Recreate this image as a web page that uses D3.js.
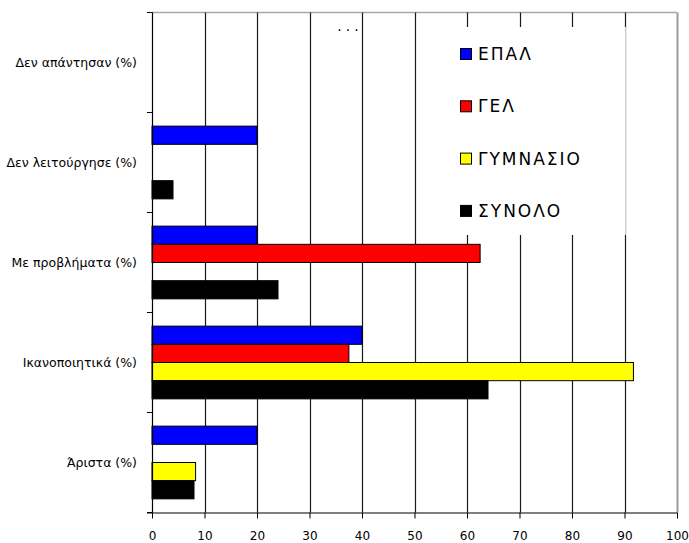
<!DOCTYPE html>
<html>
<head>
<meta charset="utf-8">
<script src="https://cdn.jsdelivr.net/npm/d3@7"></script>
<style>
  html, body { margin: 0; padding: 0; background: #fff; }
  svg { display: block; font-family: "Comic Sans MS", "DejaVu Sans", sans-serif; }
</style>
</head>
<body>
<svg id="chart" width="689" height="543"></svg>
<script>
// Answer categories, listed top to bottom
const categories = ["Δεν απάντησαν (%)", "Δεν λειτούργησε (%)", "Με προβλήματα (%)", "Ικανοποιητικά (%)", "Άριστα (%)"];

// Series names and colours
const seriesNames = ["ΕΠΑΛ", "ΓΕΛ", "ΓΥΜΝΑΣΙΟ", "ΣΥΝΟΛΟ"];
const seriesColors = ["#0000ff", "#ff0000", "#ffff00", "#000000"];

// Percentages per category (same order as categories)
const epal     = [0, 20, 20, 40, 20];
const gel      = [0, 0, 62.5, 37.5, 0];
const gymnasio = [0, 0, 0, 91.7, 8.3];
const synolo   = [0, 4, 24, 64, 8];

const xTicks = [0, 10, 20, 30, 40, 50, 60, 70, 80, 90, 100];

const seriesValues = [epal, gel, gymnasio, synolo];

const svg = d3.select("#chart");
const plotLeft = 152, plotRight = 677, plotTop = 12.5, plotBottom = 512.5;

const x = d3.scaleLinear().domain([0, 100]).range([plotLeft, plotRight]);
const y = d3.scaleBand().domain(categories).range([plotTop, plotBottom]).padding(0);
const ySub = d3.scaleBand().domain(seriesNames).range([0, y.bandwidth()])
  .paddingInner(0).paddingOuter(0.75);

// Plot frame (top and right edges)
svg.append("line").attr("x1", plotLeft).attr("x2", plotRight).attr("y1", plotTop).attr("y2", plotTop)
  .attr("stroke", "#a8a8a8").attr("stroke-width", 1.5);

// Vertical gridlines
svg.append("g").selectAll("line").data(xTicks.filter(d => d > 0 && d < 100)).join("line")
  .attr("x1", d => Math.round(x(d)) + 0.5).attr("x2", d => Math.round(x(d)) + 0.5)
  .attr("y1", plotTop).attr("y2", plotBottom)
  .attr("stroke", "#1a1a1a").attr("stroke-width", 1.2);

svg.append("line").attr("x1", plotRight + 0.5).attr("x2", plotRight + 0.5).attr("y1", plotTop).attr("y2", plotBottom)
  .attr("stroke", "#9a9a9a").attr("stroke-width", 2);

// Bars
const rows = categories.map((c, i) => seriesNames.map((s, j) => ({ cat: c, series: s, value: seriesValues[j][i], color: seriesColors[j] })));
svg.append("g").selectAll("g").data(rows).join("g")
  .attr("transform", d => `translate(0,${y(d[0].cat)})`)
  .selectAll("rect").data(d => d.filter(e => e.value > 0)).join("rect")
  .attr("x", x(0))
  .attr("y", d => ySub(d.series))
  .attr("width", d => x(d.value) - x(0))
  .attr("height", ySub.bandwidth())
  .attr("fill", d => d.color)
  .attr("stroke", "#000").attr("stroke-width", 1);

// Legend panel
const lg = svg.append("g");
lg.append("rect").attr("x", 440).attr("y", 27).attr("width", 185).attr("height", 208).attr("fill", "#fff");
lg.append("line").attr("x1", Math.round(x(90)) + 0.5).attr("x2", Math.round(x(90)) + 0.5).attr("y1", 27).attr("y2", 235)
  .attr("stroke", "#cfcfcf").attr("stroke-width", 1);
const items = lg.selectAll("g.item").data(seriesNames).join("g").attr("class", "item")
  .attr("transform", (d, i) => `translate(460,${54 + i * 52.3})`);
items.append("rect").attr("x", 0.5).attr("y", -5.5).attr("width", 11).attr("height", 11)
  .attr("fill", (d, i) => seriesColors[i]).attr("stroke", "#000").attr("stroke-width", 1);
items.append("text").attr("x", 18).attr("y", 0).attr("dy", "0.36em")
  .attr("font-size", 17).attr("letter-spacing", 2).attr("fill", "#000").text(d => d);

// Small text fragment near the top
svg.append("text").attr("x", 350).attr("y", 31).attr("text-anchor", "middle")
  .attr("font-size", 14).attr("letter-spacing", 4).attr("fill", "#000").text("...");

// Category axis
const yAxis = svg.append("g").attr("transform", `translate(${plotLeft},0)`);
yAxis.append("line").attr("x1", 0.5).attr("x2", 0.5).attr("y1", plotTop).attr("y2", plotBottom)
  .attr("stroke", "#000").attr("stroke-width", 1.2);
yAxis.selectAll("line.tick").data(d3.range(categories.length + 1)).join("line").attr("class", "tick")
  .attr("x1", -5).attr("x2", 0.5)
  .attr("y1", i => plotTop + i * y.step()).attr("y2", i => plotTop + i * y.step())
  .attr("stroke", "#000").attr("stroke-width", 1);
yAxis.selectAll("text").data(categories).join("text")
  .attr("x", -15).attr("y", d => y(d) + y.bandwidth() / 2).attr("dy", "0.36em")
  .attr("text-anchor", "end").attr("font-size", 12.5).attr("fill", "#000").text(d => d);

// Value axis
const xAxis = svg.append("g").attr("transform", `translate(0,${plotBottom})`)
  .call(d3.axisBottom(x).tickValues(xTicks).tickSize(6).tickSizeOuter(0).tickPadding(13));
xAxis.select(".domain").attr("d", `M${plotLeft - 5},0.5H${plotRight}`).attr("stroke", "#000").attr("stroke-width", 1.2);
xAxis.selectAll(".tick line").attr("stroke", "#000");
xAxis.selectAll(".tick text").attr("font-size", 12).attr("font-family", "\"Comic Sans MS\", \"DejaVu Sans\", sans-serif").attr("fill", "#000");
</script>
</body>
</html>
